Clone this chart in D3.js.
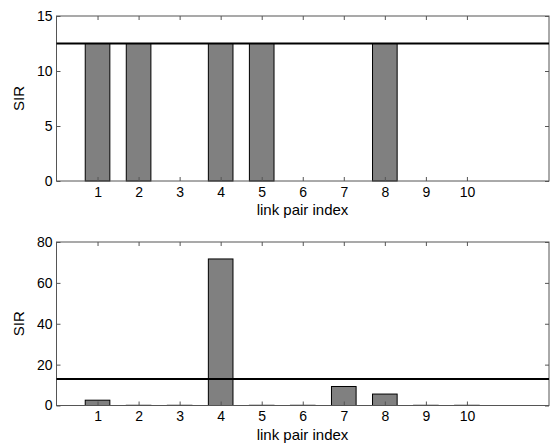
<!DOCTYPE html>
<html>
<head>
<meta charset="utf-8">
<script src="https://cdn.jsdelivr.net/npm/d3@7"></script>
<style>
  body { margin: 0; background: #fff; }
  text { font-family: "Liberation Sans", Arial, sans-serif; }
</style>
</head>
<body>
<div id="visualization"></div>
<script>
const linkPairs = [1, 2, 3, 4, 5, 6, 7, 8, 9, 10];
const sirTop = [12.5, 12.5, 0, 12.5, 12.5, 0, 0, 12.5, 0, 0];
const sirBottom = [2.6, 0.1, 0.1, 71.7, 0.1, 0.1, 9.3, 5.6, 0.1, 0.1];
const thresholdTop = 12.5;
const thresholdBottom = 13;
const yTicksTop = [0, 5, 10, 15];
const yTicksBottom = [0, 20, 40, 60, 80];

const svgWidth = 551;
const svgHeight = 443;

const svg = d3
  .select("#visualization")
  .append("svg")
  .attr("width", svgWidth)
  .attr("height", svgHeight);

function buildPanel(values, threshold, yTicks, top, bottom) {
  const left = 56.5;
  const right = 549;

  const xScale = d3.scaleLinear().domain([0, 12]).range([left, right]);
  const yScale = d3
    .scaleLinear()
    .domain([0, d3.max(yTicks)])
    .range([bottom, top]);

  const g = svg.append("g");
  const barWidth = 0.6;

  g.selectAll("rect.bar")
    .data(linkPairs)
    .join("rect")
    .attr("class", "bar")
    .attr("x", d => xScale(d - barWidth / 2))
    .attr("width", xScale(barWidth) - xScale(0))
    .attr("y", (d, i) => yScale(values[i]))
    .attr("height", (d, i) => yScale(0) - yScale(values[i]))
    .attr("fill", "#808080")
    .attr("stroke", "#000")
    .attr("stroke-width", 1);

  // box
  g.append("rect")
    .attr("x", left)
    .attr("y", top)
    .attr("width", right - left)
    .attr("height", bottom - top)
    .attr("fill", "none")
    .attr("stroke", "#555")
    .attr("stroke-width", 1);

  // ticks pointing inward, on all four sides
  const tickLen = 4;
  const xAxisBottom = d3.axisBottom(xScale).tickValues(linkPairs).tickSizeInner(-tickLen).tickSizeOuter(0).tickPadding(6);
  const xAxisTop = d3.axisTop(xScale).tickValues(linkPairs).tickSizeInner(-tickLen).tickSizeOuter(0).tickFormat("");
  const yAxisLeft = d3.axisLeft(yScale).tickValues(yTicks).tickSizeInner(-tickLen).tickSizeOuter(0).tickPadding(4);
  const yAxisRight = d3.axisRight(yScale).tickValues(yTicks).tickSizeInner(-tickLen).tickSizeOuter(0).tickFormat("");

  const styleAxis = a => {
    a.select(".domain").remove();
    a.selectAll(".tick line").attr("stroke", "#555");
    a.selectAll(".tick text")
      .attr("fill", "#000")
      .style("font-size", "14px")
      .style("font-family", '"Liberation Sans", Arial, sans-serif');
  };

  g.append("g").attr("transform", `translate(0,${bottom})`).call(xAxisBottom).call(styleAxis);
  g.append("g").attr("transform", `translate(0,${top})`).call(xAxisTop).call(styleAxis);
  g.append("g").attr("transform", `translate(${left},0)`).call(yAxisLeft).call(styleAxis);
  g.append("g").attr("transform", `translate(${right},0)`).call(yAxisRight).call(styleAxis);

  // threshold line
  g.append("line")
    .attr("x1", left)
    .attr("x2", right)
    .attr("y1", yScale(threshold))
    .attr("y2", yScale(threshold))
    .attr("stroke", "#000")
    .attr("stroke-width", 2);

  g.append("text")
    .attr("x", 302.5)
    .attr("y", bottom + 34)
    .attr("text-anchor", "middle")
    .style("font-size", "15px")
    .text("link pair index");

  g.append("text")
    .attr("transform", `translate(24,${(top + bottom) / 2}) rotate(-90)`)
    .attr("text-anchor", "middle")
    .style("font-size", "15px")
    .text("SIR");
}

buildPanel(sirTop, thresholdTop, yTicksTop, 16, 181);
buildPanel(sirBottom, thresholdBottom, yTicksBottom, 242, 405.5);
</script>
</body>
</html>
